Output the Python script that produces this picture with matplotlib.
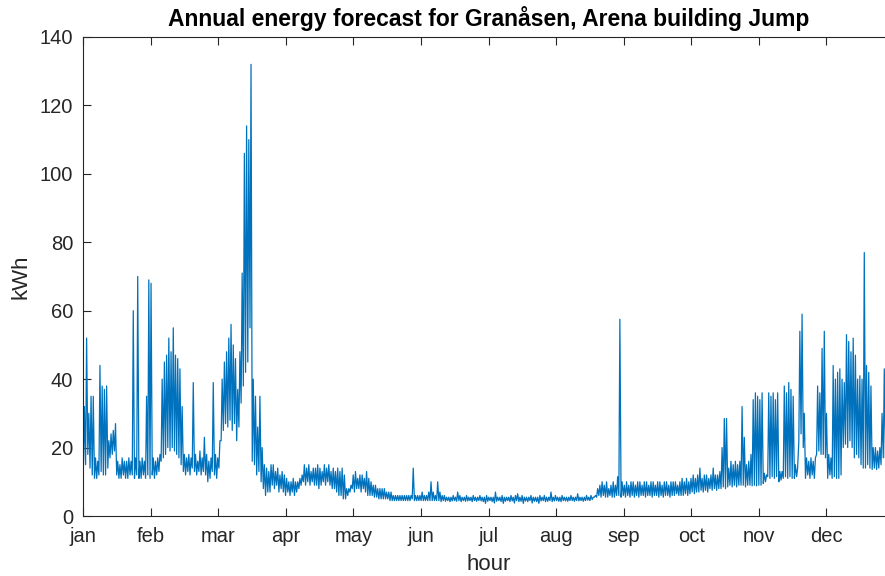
import numpy as np
import matplotlib
matplotlib.use("Agg")
import matplotlib.pyplot as plt

# daily low / high readings of the hourly load curve (kWh), day 0..364
daily_max = [
    32, 52, 30, 35, 35, 17, 16, 44, 38, 37,
    38, 22, 24, 25, 27, 16, 15, 17, 16, 16,
    17, 16, 60, 17, 70, 16, 17, 16, 35, 69,
    68, 17, 16, 17, 18, 40, 45, 47, 52, 48,
    55, 47, 46, 43, 32, 18, 17, 18, 17, 39,
    18, 16, 19, 17, 23, 18, 16, 17, 39, 18,
    17, 22, 40, 45, 48, 52, 56, 50, 46, 37,
    48, 71, 106, 114, 110, 132, 40, 35, 26, 35,
    20, 15, 14, 13, 15, 15, 13, 14, 12, 13,
    12, 11, 10, 10, 11, 10, 10, 11, 12, 15,
    14, 15, 13, 14, 14, 15, 14, 13, 15, 14,
    15, 13, 14, 13, 14, 13, 14, 12, 8, 8,
    9, 12, 13, 11, 12, 12, 11, 13, 11, 10,
    9, 9, 8, 8, 8, 8, 7, 7, 7, 6,
    6, 6, 6, 6, 6, 6, 6, 6, 14, 6,
    6, 6, 7, 6, 6, 7, 10, 7, 6, 10,
    7, 6, 6, 5.5, 5.5, 5.5, 6, 5.5, 7, 6,
    5.5, 5.5, 6, 5.5, 5.5, 6, 5.5, 5.5, 6, 5.5,
    5.5, 6, 5.5, 5.5, 5.5, 7, 5.5, 5.5, 6, 5.5,
    5.5, 5.5, 6, 5.5, 6, 6.5, 5.5, 6, 5.5, 5.5,
    5.5, 6, 5.5, 5.5, 5.5, 6, 5.5, 6, 5.5, 5.5,
    7, 5.5, 6, 5.5, 5.5, 6, 5.5, 5.5, 5.5, 6,
    5.5, 5.5, 6.5, 5.5, 5.5, 5.5, 6, 5.5, 6, 5.5,
    6, 8, 9, 10, 9, 10, 8, 9, 10, 9,
    11.5, 57.5, 10, 9, 10, 9, 10, 10, 9, 10,
    10, 9, 10, 10, 9, 10, 10, 9, 10, 10,
    9, 10, 10, 9, 10, 10, 10, 9, 10, 11,
    10, 11, 10, 11, 12, 11, 12, 14, 11, 12,
    12, 11, 12, 14, 12, 12, 13, 20, 28.5, 28.5,
    14, 16, 15, 16, 15, 16, 32, 23, 15, 16,
    18, 34, 36, 35, 34, 36, 12.5, 12, 36, 35,
    36, 34, 36, 13, 13, 38, 36, 39, 37, 35,
    15, 14, 54, 59, 30, 17, 16, 17, 16, 17,
    38, 36, 49, 54, 30, 18, 17, 44, 40, 42,
    43, 40, 39, 53, 51, 48, 52, 47, 40, 41,
    40, 77, 44, 42, 38, 20, 20, 19, 20, 30,
    43, 45, 44, 42, 43,
]
daily_min = [
    14, 15, 18, 14, 12, 11, 11, 12, 13, 12,
    12, 14, 17, 18, 19, 12, 11, 11, 12, 11,
    11, 12, 12, 11, 12, 11, 11, 12, 11, 12,
    11, 12, 11, 12, 13, 16, 17, 18, 20, 19,
    20, 19, 18, 17, 15, 13, 12, 13, 12, 14,
    13, 12, 13, 12, 13, 12, 10, 11, 13, 12,
    11, 14, 22, 25, 27, 26, 28, 25, 27, 22,
    26, 33, 38, 42, 45, 55, 16, 15, 12, 13,
    10, 8, 6, 7, 7, 9, 8, 9, 7, 8,
    7, 6, 7, 6, 7, 6, 7, 8, 9, 10,
    9, 10, 9, 10, 9, 9, 8, 9, 10, 9,
    10, 9, 8, 8, 7, 6, 6, 5, 5, 6,
    7, 8, 7, 8, 8, 7, 8, 7, 6, 6,
    6, 5.5, 5.5, 5, 5, 5, 5, 5, 4.5, 4.5,
    4.5, 4.5, 4.5, 4.5, 4.5, 4.5, 4.5, 4.5, 5, 4.5,
    4.5, 4.5, 4.5, 4.5, 4.5, 4.5, 4.5, 4.5, 4.5, 4.5,
    4.5, 4.2, 4.5, 4.3, 4.5, 4.2, 4.4, 4.5, 4.3, 4.5,
    4.2, 4.5, 4.3, 4.4, 4.5, 4.2, 4.5, 4.3, 4.5, 4.4,
    4.2, 3.7, 4.3, 4.5, 4.2, 3.8, 4.3, 4.5, 4.2, 3.7,
    4.3, 4.5, 4.2, 4.4, 3.8, 4.5, 4.2, 4.3, 3.7, 4.4,
    4.2, 4.5, 3.8, 4.3, 4.2, 3.7, 4.4, 4.5, 4.2, 4.3,
    4.5, 4.2, 4.4, 4.5, 4.3, 4.2, 4.5, 4.4, 4.3, 4.5,
    4.5, 4.3, 4.5, 4.4, 4.5, 4.3, 4.5, 4.6, 4.5, 4.8,
    5.5, 5.5, 6, 5.5, 6, 5.5, 5.5, 6, 5.5, 5.5,
    6, 6, 5.5, 6, 5.5, 6, 5.5, 6, 5.5, 6,
    5.5, 6, 6, 5.5, 6, 6, 5.5, 6, 6, 5.5,
    6, 5.5, 6, 6, 5.5, 6, 6, 6.5, 6, 6,
    6, 6.5, 6, 6.5, 7, 6.5, 7, 7, 7.5, 7,
    7.5, 7, 8, 7.5, 8, 7.5, 8, 8, 8.5, 8,
    8.5, 9, 8.5, 9, 8.5, 9, 9, 9, 8.5, 9,
    9, 8.8, 9, 8.8, 9, 9, 9.5, 10, 11.5, 11,
    11.5, 11, 11.5, 10, 10.5, 11, 11.5, 11, 11.5, 11,
    11, 11.5, 22, 24, 20, 11, 12, 11, 12, 11,
    18, 19, 18, 18, 17, 11, 12, 11, 11.5, 11,
    11, 12, 20, 21, 20, 22, 20, 17, 18, 17,
    15, 14, 14, 15, 14, 13.6, 14, 13.6, 14, 15,
    17, 17, 16, 17, 17,
]
month_labels = ["jan", "feb", "mar", "apr", "may", "jun",
                "jul", "aug", "sep", "oct", "nov", "dec"]
hours_per_year = 8760
min_hour = 4    # hour of day the low is read at
max_hour = 15   # hour of day the high is read at

days = np.arange(len(daily_max))
hour = np.column_stack([days * 24 + min_hour, days * 24 + max_hour]).ravel()
kwh = np.column_stack([daily_min, daily_max]).ravel()

plt.rcParams['font.family'] = ['Liberation Sans', 'DejaVu Sans']

fig = plt.figure(figsize=(8.85, 5.76), dpi=100)
# right edge of the axes falls outside the picture, as in the original
ax = fig.add_axes([83 / 885, 60 / 576, 811 / 885, 479 / 576])

ax.plot(hour, kwh, color="#0072BD", linewidth=0.9)

ax.set_xlim(0, hours_per_year)
ax.set_ylim(0, 140)
ax.set_xticks(np.arange(12) * hours_per_year / 12)
ax.set_xticklabels(month_labels)
ax.set_yticks(np.arange(0, 141, 20))

ax.tick_params(direction="in", length=6, width=0.8, colors="#262626",
               labelsize=14.5, top=True, right=True, pad=7)
ax.tick_params(axis="x", pad=8)
for s in ax.spines.values():
    s.set_color("#262626")
    s.set_linewidth(0.8)

ax.set_xlabel("hour", fontsize=16, color="#262626", labelpad=6)
ax.set_ylabel("kWh", fontsize=16, color="#262626", labelpad=6)
ax.set_title("Annual energy forecast for Granåsen, Arena building Jump",
             fontsize=16.5, fontweight="bold", pad=8)

fig.savefig("out.png", dpi=100)
